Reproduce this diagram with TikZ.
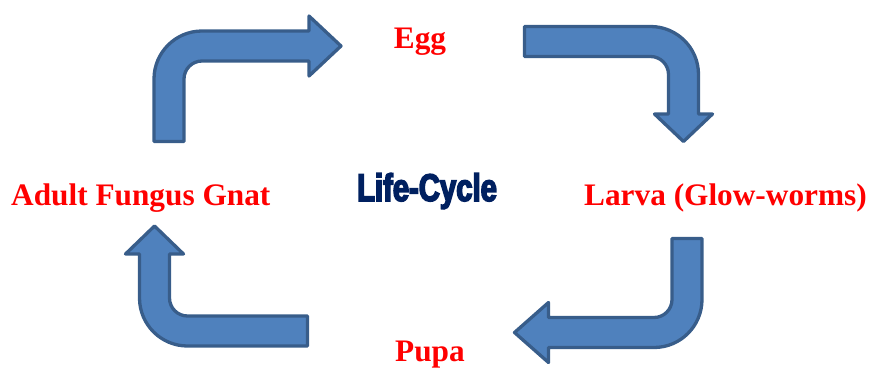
\documentclass[tikz,border=0pt]{standalone}
\usepackage{fontspec}
\setmainfont{Liberation Serif}
\newfontface\cyclefont{Liberation Sans Bold}[FakeStretch=0.76,FakeBold=4]
\usepackage{xcolor}
\definecolor{arrowfill}{HTML}{4F81BD}
\definecolor{arrowline}{HTML}{385D8A}
\definecolor{stagered}{HTML}{FF0000}
\definecolor{cyclenavy}{HTML}{002060}
\tikzset{
  bentarrow/.style={fill=arrowfill,draw=arrowline,line width=3.3pt,line join=round},
  stagelabel/.style={text=stagered,font=\fontsize{31.3}{36}\selectfont\bfseries,inner sep=0pt},
  centrelabel/.style={text=cyclenavy,font=\fontsize{38.5}{44}\selectfont\cyclefont,inner sep=0pt}
}
\begin{document}
\begin{tikzpicture}[x=1pt,y=-1pt]
\useasboundingbox (0.000000,0.000000) rectangle (875.000000,367.000000);
% Drawing stage labels
\node[stagelabel,anchor=base] (egg) at (420.000000,48.000000) {Egg};
\node[stagelabel,anchor=base west] (larva) at (584.000000,205.000000) {Larva (Glow-worms)};
\node[stagelabel,anchor=base west] (pupa) at (395.000000,361.000000) {Pupa};
\node[stagelabel,anchor=base west] (adult) at (11.000000,205.000000) {Adult Fungus Gnat};
\node[centrelabel,anchor=base] (cycle) at (427.000000,201.000000) {Life-Cycle};
% Done with labels
% Drawing bent arrows
% Arrow 1: adult to egg
\draw[bentarrow] (154.000000,141.500000) -- (154.000000,79.000000)
  arc[start angle=180,end angle=270,radius=48] -- (309.000000,31.000000)
  -- (309.000000,16.000000) -- (341.000000,46.000000) -- (309.000000,76.000000)
  -- (309.000000,61.000000) -- (202.000000,61.000000)
  arc[start angle=270,end angle=180,radius=18] -- (184.000000,141.500000) -- cycle;
% Arrow 2: egg to larva
\draw[bentarrow] (524.500000,26.500000) -- (650.500000,26.500000)
  arc[start angle=270,end angle=360,radius=48] -- (698.500000,114.000000)
  -- (712.500000,114.000000) -- (683.500000,141.500000) -- (654.500000,114.000000)
  -- (668.500000,114.000000) -- (668.500000,74.500000)
  arc[start angle=0,end angle=-90,radius=18] -- (524.500000,56.500000) -- cycle;
% Arrow 3: larva to pupa
\draw[bentarrow] (672.000000,238.500000) -- (702.000000,238.500000) -- (702.000000,299.500000)
  arc[start angle=0,end angle=90,radius=48] -- (548.500000,347.500000)
  -- (548.500000,362.500000) -- (514.500000,332.500000) -- (548.500000,302.500000)
  -- (548.500000,317.500000) -- (654.000000,317.500000)
  arc[start angle=90,end angle=0,radius=18] -- cycle;
% Arrow 4: pupa to adult
\draw[bentarrow] (307.500000,346.000000) -- (187.500000,346.000000)
  arc[start angle=90,end angle=180,radius=48] -- (139.500000,254.000000)
  -- (125.500000,254.000000) -- (154.500000,226.000000) -- (183.500000,254.000000)
  -- (169.500000,254.000000) -- (169.500000,298.000000)
  arc[start angle=180,end angle=90,radius=18] -- (307.500000,316.000000) -- cycle;
% Done with arrows
\end{tikzpicture}
\end{document}
